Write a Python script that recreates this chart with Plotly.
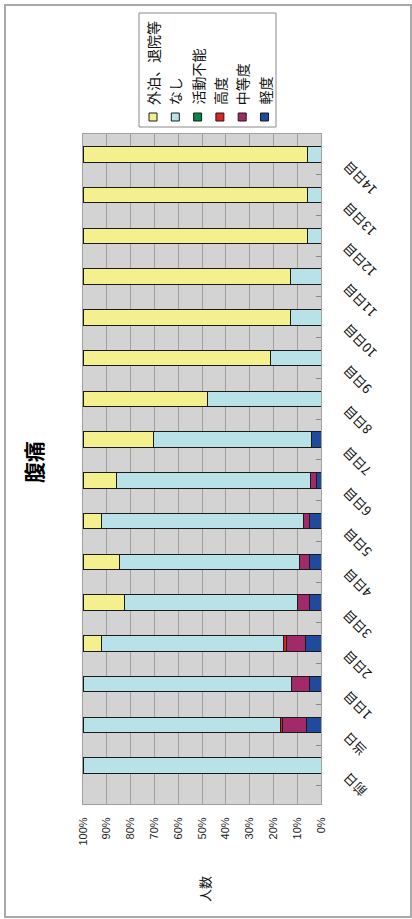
import plotly.graph_objects as go

categories = ['前日', '当日', '1日目', '2日目', '3日目', '4日目', '5日目', '6日目', '7日目',
              '8日目', '9日目', '10日目', '11日目', '12日目', '13日目', '14日目']
mild = [0, 5.9, 4.8, 6.7, 4.8, 4.8, 4.8, 2.0, 3.8, 0, 0, 0, 0, 0, 0, 0]          # 軽度
moderate = [0, 10.1, 7.4, 7.7, 4.9, 4.2, 2.4, 2.5, 0, 0, 0, 0, 0, 0, 0, 0]     # 中等度
severe = [0, 1.1, 0, 1.4, 0, 0, 0, 0, 0, 0, 0, 0, 0, 0, 0, 0]                  # 高度
disabled = [0] * 16                                                             # 活動不能
none_ = [100, 82.9, 87.8, 76.6, 72.8, 75.6, 85.1, 81.6, 66.5, 47.9, 21.4, 12.9, 12.9, 5.6, 5.6, 5.6]  # なし
discharged = [0, 0, 0, 7.6, 17.5, 15.4, 7.7, 13.9, 29.7, 52.1, 78.6, 87.1, 87.1, 94.4, 94.4, 94.4]  # 外泊、退院等

series_names = ['軽度', '中等度', '高度', '活動不能', 'なし', '外泊、退院等']
series_vals = [mild, moderate, severe, disabled, none_, discharged]
colors = ['#1F4A9E', '#A32A68', '#E02424', '#00874A', '#B8E2E8', '#F4F08E']
x_ticks = [0, 10, 20, 30, 40, 50, 60, 70, 80, 90, 100]
x_tick_labels = ['0%', '10%', '20%', '30%', '40%', '50%', '60%', '70%', '80%', '90%', '100%']

W, H = 412, 919
L, R, T, B = 83, 321, 134, 804
FONT = 'Noto Sans CJK JP'

def px(x):
    return (x - L) / (R - L)

def py(y):
    return (B - y) / (B - T)

fig = go.Figure()
for name, vals, col in zip(series_names, series_vals, colors):
    fig.add_trace(go.Bar(
        y=categories, x=vals, name=name, orientation='h',
        marker=dict(color=col, line=dict(color='#1a1a1a', width=1)),
        showlegend=False, hoverinfo='x+y+name'))

shapes = []
annotations = []

# outer chart border
shapes.append(dict(type='rect', xref='paper', yref='paper',
                   x0=px(5), x1=px(411), y0=py(917), y1=py(5),
                   line=dict(color='#A8A8A8', width=2), fillcolor='rgba(0,0,0,0)', layer='below'))

# legend box
shapes.append(dict(type='rect', xref='paper', yref='paper',
                   x0=px(139), x1=px(276), y0=py(127), y1=py(13),
                   line=dict(color='#8A8A8A', width=1), fillcolor='white'))
legend_order = ['外泊、退院等', 'なし', '活動不能', '高度', '中等度', '軽度']
for i, name in enumerate(legend_order):
    col = colors[series_names.index(name)]
    cx = 153 + i * 22.3
    shapes.append(dict(type='rect', xref='paper', yref='paper',
                       x0=px(cx - 4), x1=px(cx + 4), y0=py(121), y1=py(113),
                       line=dict(color='#1a1a1a', width=1), fillcolor=col))
    annotations.append(dict(text=name, xref='paper', yref='paper', x=px(cx), y=py(107),
                            xanchor='center', yanchor='bottom', textangle=-90, showarrow=False,
                            font=dict(family=FONT, size=14, color='#111')))

# category labels (rotated)
for c in categories:
    annotations.append(dict(text=c, xref='paper', yref='y', x=px(336), y=c, yshift=-1,
                            xanchor='left', yanchor='top', textangle=-135, showarrow=False,
                            font=dict(family=FONT, size=13, color='#111')))

# title
annotations.append(dict(text='<b>腹痛</b>', xref='paper', yref='paper', x=px(33), y=py(462),
                        xanchor='center', yanchor='middle', textangle=-90, showarrow=False,
                        font=dict(family=FONT, size=21, color='#000')))
# axis title
annotations.append(dict(text='人数', xref='paper', yref='paper', x=px(204), y=py(889),
                        xanchor='center', yanchor='middle', textangle=-90, showarrow=False,
                        font=dict(family=FONT, size=13, color='#111')))

fig.update_layout(
    width=W, height=H,
    margin=dict(l=L, r=W - R, t=T, b=H - B),
    barmode='stack', bargap=0.62,
    paper_bgcolor='white', plot_bgcolor='#D3D3D3',
    shapes=shapes, annotations=annotations,
    xaxis=dict(range=[100, 0], tickvals=x_ticks, ticktext=x_tick_labels, tickangle=-90,
               showgrid=True, gridcolor='#A39E9E', gridwidth=1, zeroline=False,
               showline=True, mirror=True, linecolor='#A0A0A0', linewidth=1,
               ticks='', ticklabelstandoff=8,
               tickfont=dict(family='Liberation Sans', size=11, color='#222')),
    yaxis=dict(categoryorder='array', categoryarray=categories, side='right',
               showticklabels=False, ticks='inside', ticklen=5, tickson='boundaries',
               tickcolor='#888', showgrid=False, zeroline=False,
               showline=True, mirror=True, linecolor='#A0A0A0', linewidth=1),
)

fig.write_html('out.html')
